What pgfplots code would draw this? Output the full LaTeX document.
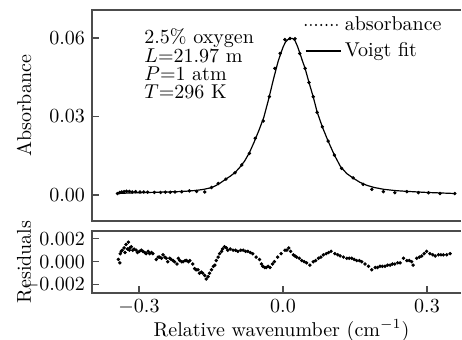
\documentclass[border=0pt]{standalone}
\usepackage{pgfplots}
\pgfplotsset{compat=1.18}
\definecolor{axiscol}{gray}{0.3}
\pgfplotstableread{
x y
-0.345 0.0006
-0.340 0.0010
-0.336 0.0012
-0.331 0.0013
-0.326 0.0015
-0.320 0.0014
-0.314 0.0012
-0.307 0.0013
-0.298 0.0012
-0.290 0.0012
-0.282 0.0011
-0.268 0.0010
-0.255 0.0010
-0.245 0.0011
-0.235 0.0011
-0.225 0.0012
-0.211 0.0013
-0.195 0.0016
-0.180 0.0014
-0.163 0.0012
-0.149 0.0029
-0.135 0.0044
-0.119 0.0061
-0.100 0.0085
-0.086 0.0115
-0.070 0.0159
-0.058 0.0217
-0.041 0.0283
-0.0285 0.0376
-0.017 0.0484
-0.006 0.0541
0.004 0.0594
0.0145 0.0598
0.025 0.0597
0.035 0.0541
0.046 0.0484
0.054 0.0430
0.063 0.0376
0.071 0.0316
0.082 0.0261
0.094 0.0206
0.107 0.0153
0.122 0.0102
0.146 0.0066
0.167 0.0041
0.185 0.0022
0.209 0.0013
0.233 0.0009
0.258 0.0013
0.282 0.0009
0.303 0.0009
0.327 0.0006
0.358 0.0006
}\absdata
\pgfplotstableread{
x y
-0.345 0.0006
-0.32 0.0008
-0.30 0.0009
-0.28 0.0010
-0.26 0.0011
-0.24 0.0012
-0.22 0.0013
-0.20 0.0015
-0.18 0.0018
-0.165 0.0022
-0.15 0.0028
-0.14 0.0036
-0.13 0.0047
-0.12 0.0060
-0.11 0.0072
-0.10 0.0086
-0.09 0.0106
-0.08 0.0130
-0.07 0.0162
-0.06 0.0203
-0.05 0.0248
-0.04 0.0297
-0.03 0.0366
-0.02 0.0442
-0.01 0.0512
0.00 0.0565
0.005 0.0584
0.01 0.0594
0.015 0.0599
0.02 0.0598
0.025 0.0590
0.03 0.0569
0.035 0.0543
0.04 0.0515
0.046 0.0484
0.054 0.0431
0.063 0.0375
0.071 0.0318
0.082 0.0260
0.094 0.0206
0.107 0.0153
0.12 0.0108
0.133 0.0082
0.146 0.0065
0.16 0.0049
0.175 0.0037
0.19 0.0029
0.21 0.0022
0.235 0.0017
0.26 0.0014
0.28 0.0012
0.30 0.0010
0.33 0.0008
0.358 0.0006
}\fitdata
\pgfplotstableread{
x y
-0.343 0.0002
-0.340 -0.0001
-0.339 0.0007
-0.337 0.0009
-0.335 0.0010
-0.331 0.0012
-0.329 0.0008
-0.327 0.0015
-0.324 0.0011
-0.322 0.0017
-0.320 0.0010
-0.319 0.0012
-0.316 0.0013
-0.313 0.0010
-0.310 0.0011
-0.306 0.0010
-0.303 0.0008
-0.299 0.0009
-0.295 0.0010
-0.292 0.0009
-0.288 0.0008
-0.285 0.0007
-0.281 0.0009
-0.278 0.0007
-0.274 0.0008
-0.271 0.0007
-0.264 0.0002
-0.260 0.0004
-0.257 0.0004
-0.253 0.0003
-0.250 0.0006
-0.246 0.0004
-0.243 0.0003
-0.240 0.0000
-0.236 0.0003
-0.233 0.0002
-0.229 0.0001
-0.226 0.0000
-0.221 -0.0002
-0.218 0.0003
-0.215 0.0001
-0.211 0.0000
-0.208 0.0000
-0.204 0.0001
-0.201 0.0001
-0.197 0.0000
-0.194 0.0001
-0.188 -0.0002
-0.184 -0.0006
-0.181 -0.0007
-0.177 -0.0007
-0.174 -0.0010
-0.170 -0.0009
-0.167 -0.0010
-0.163 -0.0012
-0.160 -0.0015
-0.156 -0.0013
-0.153 -0.0010
-0.149 -0.0007
-0.145 -0.0004
-0.142 -0.0003
-0.139 0.0001
-0.135 0.0004
-0.132 0.0007
-0.128 0.0009
-0.126 0.0011
-0.122 0.0013
-0.118 0.0012
-0.115 0.0010
-0.110 0.0011
-0.104 0.0010
-0.099 0.0010
-0.094 0.0009
-0.088 0.0010
-0.083 0.0010
-0.078 0.0009
-0.073 0.0009
-0.068 0.0008
-0.063 0.0007
-0.056 0.0004
-0.049 0.0002
-0.045 -0.0002
-0.042 -0.0004
-0.038 -0.0005
-0.035 -0.0005
-0.031 -0.0004
-0.027 -0.0005
-0.022 -0.0002
-0.018 0.0000
-0.011 0.0004
-0.004 0.0007
0.004 0.0010
0.008 0.0010
0.012 0.0012
0.016 0.0009
0.0215 0.0006
0.025 0.0005
0.0285 0.0004
0.034 0.0003
0.039 0.0001
0.044 0.0000
0.049 -0.0001
0.056 -0.0003
0.063 0.0000
0.068 0.0001
0.074 0.0003
0.079 0.0004
0.084 0.0006
0.090 0.0007
0.095 0.0008
0.100 0.0009
0.108 0.0007
0.114 0.0006
0.119 0.0005
0.126 0.0004
0.133 0.0003
0.138 0.0003
0.143 0.0003
0.148 0.0002
0.1535 0.0001
0.159 0.0001
0.164 0.0000
0.171 -0.0002
0.178 -0.0004
0.185 -0.0007
0.192 -0.0005
0.197 -0.0005
0.202 -0.0004
0.207 -0.0004
0.2125 -0.0004
0.218 -0.0003
0.223 -0.0003
0.228 -0.0002
0.233 -0.0002
0.239 -0.0001
0.244 -0.0001
0.251 0.0003
0.258 0.0001
0.263 0.0001
0.268 0.0000
0.271 -0.0003
0.2785 0.0003
0.284 0.0004
0.289 0.0005
0.294 0.0007
0.299 0.0009
0.306 0.0007
0.312 0.0006
0.317 0.0005
0.324 0.0006
0.329 0.0006
0.334 0.0006
0.341 0.0006
0.348 0.0007
}\resdata
\pgfplotsset{
  frameax/.style={
    scale only axis,
    width=184.5pt,
    xmin=-0.3979, xmax=0.3708,
    axis line style={draw=none},
    clip=false,
    tick align=inside,
    major tick length=3.5pt,
    tick style={axiscol, line width=0.6pt},
    tick pos=left,
    scaled ticks=false,
    execute at end axis={\draw[axiscol, line width=0.75pt] (rel axis cs:1,0) -- (rel axis cs:0,0) -- (rel axis cs:0,1) -- (rel axis cs:1,1);},
  },
  mk/.style={only marks, mark=*, mark size=0.65pt, black},
}
\begin{document}
\begin{tikzpicture}[x=1pt,y=1pt]
\useasboundingbox (0,0) rectangle (231,169.5);
\begin{axis}[frameax,
  at={(46pt,59pt)}, anchor=south west,
  height=105.5pt,
  ymin=-0.0099, ymax=0.0707,
  xtick=\empty,
  ytick={0,0.03,0.06},
  yticklabel style={/pgf/number format/.cd, fixed, fixed zerofill, precision=2},
  ylabel={Absorbance},
  ylabel style={at={(axis description cs:-0.184,0.545)}, anchor=center},
  legend cell align=left,
  legend style={draw=none, fill=none, at={(rel axis cs:0.575,0.985)}, anchor=north west, inner sep=0pt, row sep=1.5pt, nodes={inner sep=1.5pt}},
]
\addplot[mk, legend image code/.code={\draw[black, line width=1.1pt, line cap=round, dash pattern=on 0pt off 2.6pt] (0pt,0pt) -- (17.5pt,0pt);}] table[x=x,y=y] {\absdata};
\addlegendentry{absorbance}
\addplot[black, line width=0.6pt, legend image code/.code={\draw[black, line width=0.6pt] (0pt,0pt) -- (17.5pt,0pt);}] table[x=x,y=y] {\fitdata};
\addlegendentry{Voigt fit}
\node[anchor=base west, inner sep=0pt] at (rel axis cs:0.141,0.839) {2.5\% oxygen};
\node[anchor=base west, inner sep=0pt] at (rel axis cs:0.141,0.751) {$L$=21.97 m};
\node[anchor=base west, inner sep=0pt] at (rel axis cs:0.141,0.666) {$P$=1 atm};
\node[anchor=base west, inner sep=0pt] at (rel axis cs:0.141,0.582) {$T$=296 K};
\end{axis}
\begin{axis}[frameax,
  at={(46pt,23pt)}, anchor=south west,
  height=31pt,
  ymin=-0.00272, ymax=0.00267,
  xtick={-0.3,0,0.3},
  ytick={-0.002,0,0.002},
  xticklabel style={/pgf/number format/.cd, fixed, fixed zerofill, precision=1},
  yticklabel style={/pgf/number format/.cd, fixed, fixed zerofill, precision=3},
  ylabel={Residuals},
  ylabel style={at={(axis description cs:-0.184,0.5)}, anchor=center},
  xlabel={Relative wavenumber (cm$^{-1}$)},
  xlabel style={at={(axis description cs:0.5135,-0.694)}, anchor=base},
]
\addplot[mk] table[x=x,y=y] {\resdata};
\end{axis}
\end{tikzpicture}
\end{document}
